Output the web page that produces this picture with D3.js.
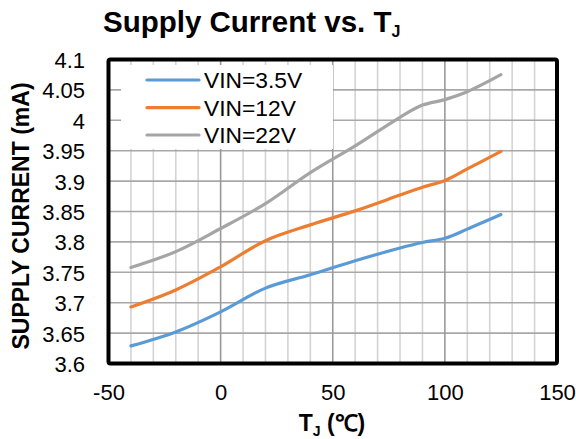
<!DOCTYPE html>
<html>
<head>
<meta charset="utf-8">
<script src="https://cdn.jsdelivr.net/npm/d3@7"></script>
<style>
  html, body { margin: 0; padding: 0; background: #fff; }
  svg { display: block; font-family: "Liberation Sans", Arial, sans-serif; }
</style>
</head>
<body>
<svg id="chart" width="576" height="439"></svg>
<script>
// ---- data ----
const temps = [-40, -20, 0, 20, 40, 60, 80, 90, 100, 110, 125];
const vin35 = [3.629, 3.652, 3.685, 3.724, 3.746, 3.769, 3.790, 3.799, 3.806, 3.821, 3.845];
const vin12 = [3.693, 3.721, 3.759, 3.802, 3.828, 3.851, 3.877, 3.890, 3.901, 3.920, 3.949];
const vin22 = [3.758, 3.784, 3.822, 3.863, 3.914, 3.958, 4.005, 4.025, 4.034, 4.047, 4.075];
const seriesNames = ["VIN=3.5V", "VIN=12V", "VIN=22V"];
const seriesColors = ["#5B9BD5", "#ED7D31", "#A5A5A5"];
const xTicks = [-50, 0, 50, 100, 150];
const yTicks = [3.6, 3.65, 3.7, 3.75, 3.8, 3.85, 3.9, 3.95, 4, 4.05, 4.1];
const xMinor = d3.range(-50, 151, 10);

// ---- layout ----
const svg = d3.select("#chart");
const L = 108.5, R = 557, T = 59.5, B = 363.5;
const x = d3.scaleLinear().domain([-50, 150]).range([L, R]);
const y = d3.scaleLinear().domain([3.6, 4.1]).range([B, T]);

// grid
const grid = svg.append("g");
grid.selectAll("line.vx").data(xMinor.filter(d => d % 50 !== 0)).join("line")
  .attr("x1", d => x(d)).attr("x2", d => x(d)).attr("y1", T).attr("y2", B)
  .attr("stroke", "#d4d4d4").attr("stroke-width", 1.6);
grid.selectAll("line.hy").data(yTicks).join("line")
  .attr("x1", L).attr("x2", R).attr("y1", d => y(d)).attr("y2", d => y(d))
  .attr("stroke", "#a8a8a8").attr("stroke-width", 1.6);
grid.selectAll("line.vM").data(xMinor.filter(d => d % 50 === 0)).join("line")
  .attr("x1", d => x(d)).attr("x2", d => x(d)).attr("y1", T).attr("y2", B)
  .attr("stroke", "#9a9a9a").attr("stroke-width", 1.6);

// legend background (covers grid)
svg.append("rect").attr("x", 121).attr("y", 65).attr("width", 212).attr("height", 84).attr("fill", "#fff");

// lines
const allSeries = [vin35, vin12, vin22];
const line = d3.line().x(d => x(d[0])).y(d => y(d[1])).curve(d3.curveCatmullRom.alpha(0.5));
allSeries.forEach((s, i) => {
  svg.append("path")
    .attr("d", line(temps.map((t, k) => [t, s[k]])))
    .attr("fill", "none").attr("stroke", seriesColors[i])
    .attr("stroke-width", 3.2).attr("stroke-linecap", "round").attr("stroke-linejoin", "round");
});

// frame
svg.append("rect").attr("x", L).attr("y", T).attr("width", R - L).attr("height", B - T)
  .attr("fill", "none").attr("stroke", "#000").attr("stroke-width", 4).attr("rx", 2);

// legend
const legY = [80, 107.7, 135];
seriesNames.forEach((n, i) => {
  svg.append("line").attr("x1", 147).attr("x2", 199).attr("y1", legY[i]).attr("y2", legY[i])
    .attr("stroke", seriesColors[i]).attr("stroke-width", 3.2).attr("stroke-linecap", "round");
  svg.append("text").attr("x", 204).attr("y", legY[i] + 8).attr("font-size", 22.8)
    .attr("fill", "#000").text(n);
});

// axes tick labels
const xAxis = d3.axisBottom(x).tickValues(xTicks).tickSize(0).tickPadding(0).tickFormat(d => String(d));
const gx = svg.append("g").attr("transform", `translate(0,${B})`).call(xAxis);
gx.select(".domain").remove();
gx.selectAll("text").attr("font-size", 22).attr("fill", "#000")
  .attr("font-family", "Liberation Sans, Arial, sans-serif").attr("y", 36).attr("dy", 0);

const yAxis = d3.axisLeft(y).tickValues(yTicks).tickSize(0).tickPadding(0).tickFormat(d => String(d));
const gy = svg.append("g").attr("transform", `translate(85,0)`).call(yAxis);
gy.select(".domain").remove();
gy.selectAll("text").attr("font-size", 22).attr("fill", "#000")
  .attr("font-family", "Liberation Sans, Arial, sans-serif").attr("x", 0).attr("dy", "0.36em");

// title
const title = svg.append("text").attr("x", 103).attr("y", 32).attr("font-size", 29.5)
  .attr("font-weight", "bold").attr("fill", "#000");
title.append("tspan").text("Supply Current vs. T");
title.append("tspan").attr("font-size", 16).attr("dy", 5).text("J");

// x axis title
const xt = svg.append("text").attr("x", 332).attr("y", 431).attr("font-size", 23)
  .attr("font-weight", "bold").attr("text-anchor", "middle").attr("fill", "#000");
xt.append("tspan").text("T");
xt.append("tspan").attr("font-size", 14).attr("dy", 5).text("J");
xt.append("tspan").attr("dy", -5).text(" (℃)");

// y axis title
svg.append("text").attr("transform", "translate(29,216) rotate(-90)")
  .attr("font-size", 23).attr("font-weight", "bold").attr("text-anchor", "middle")
  .attr("fill", "#000").text("SUPPLY CURRENT (mA)");
</script>
</body>
</html>
